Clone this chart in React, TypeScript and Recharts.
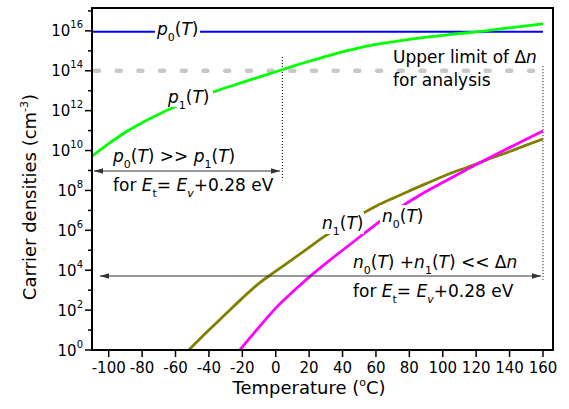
import React from "react";
import { LineChart, Line, XAxis, YAxis, ReferenceLine, ReferenceArea } from "recharts";

// temperatures in °C, densities in cm^-3
const p0Temps = [-110, 160];
const p0Vals = [9e15, 9e15];

const p1Temps = [-110, -100, -90, -80, -70, -60, -50, -40, -30, -20, -10, 0, 10, 20, 30, 40, 50, 60, 70, 80, 90, 100, 110, 120, 130, 140, 150, 160];
const p1Vals = [5.2e9, 2.2e10, 8.3e10, 2.5e11, 6.6e11, 1.6e12, 3.3e12, 7.1e12, 1.4e13, 2.6e13, 4.8e13, 8.9e13, 1.66e14, 3.0e14, 5.2e14, 8.9e14, 1.4e15, 2.1e15, 2.8e15, 3.7e15, 4.8e15, 6.0e15, 7.4e15, 8.9e15, 1.12e16, 1.41e16, 1.78e16, 2.24e16];

const n1Temps = [-52, -40, -30, -20, -10, 0, 10, 20, 30, 40, 50, 60, 70, 80, 90, 100, 110, 120, 130, 140, 150, 160];
const n1Vals = [1, 10, 63, 400, 2.2e3, 8.9e3, 3.5e4, 1.4e5, 5.6e5, 1.8e6, 5.6e6, 1.6e7, 4.0e7, 9.5e7, 2.2e8, 5.0e8, 1.05e9, 2.1e9, 4.5e9, 8.9e9, 1.86e10, 3.8e10];

const n0Temps = [-21.5, -10, 0, 10, 20, 30, 40, 50, 60, 70, 80, 90, 100, 110, 120, 130, 140, 150, 160];
const n0Vals = [1, 14, 126, 800, 4.5e3, 2.2e4, 1.0e5, 4.5e5, 2.0e6, 7.9e6, 2.8e7, 8.9e7, 2.5e8, 7.1e8, 2.0e9, 5.4e9, 1.4e10, 3.7e10, 9.5e10];

const xTicks = [-100, -80, -60, -40, -20, 0, 20, 40, 60, 80, 100, 120, 140, 160];
const yTicks = [1, 1e1, 1e2, 1e3, 1e4, 1e5, 1e6, 1e7, 1e8, 1e9, 1e10, 1e11, 1e12, 1e13, 1e14, 1e15, 1e16, 1e17];

const toRows = (ts: number[], vs: number[]) => ts.map((t, i) => ({ t, v: vs[i] }));

const FONT = "'DejaVu Sans', Verdana, sans-serif";

const YTick = (props: any) => {
  const { x, y, payload } = props;
  const e = Math.round(Math.log10(payload.value));
  const ax = x + 10;
  const major = e % 2 === 0;
  return (
    <g>
      <line x1={ax - (major ? 7 : 4)} x2={ax} y1={y} y2={y} stroke="#000" strokeWidth={1.5} />
      {major && (
        <text x={ax - 9} y={y + 5.5} textAnchor="end" fontSize={15} fill="#000" fontFamily={FONT}>
          10<tspan dy={-8} fontSize={10}>{e}</tspan>
        </text>
      )}
    </g>
  );
};

type Part = { t: string; i?: boolean; s?: "sub" | "sup" };

// text with italic / sub / superscript runs
const Rich = ({ x, y, parts, size = 17, anchor, transform }: { x?: number; y?: number; parts: Part[]; size?: number; anchor?: string; transform?: string }) => {
  let cur = 0;
  return (
    <text x={x} y={y} fontSize={size} textAnchor={anchor} transform={transform} style={{ whiteSpace: "pre" }}>
      {parts.map((p, k) => {
        const target = p.s === "sub" ? 6 : p.s === "sup" ? -8 : 0;
        const dy = target - cur;
        cur = target;
        return (
          <tspan key={k} dy={dy || undefined} fontSize={p.s ? 11 : undefined} fontStyle={p.i ? "italic" : undefined}>
            {p.t}
          </tspan>
        );
      })}
    </text>
  );
};

const fn = (name: string, idx: string): Part[] => [{ t: name, i: true }, { t: idx, s: "sub" }, { t: "(" }, { t: "T", i: true }, { t: ")" }];
const etLine: Part[] = [{ t: "for " }, { t: "E", i: true }, { t: "t", s: "sub" }, { t: "= " }, { t: "E", i: true }, { t: "v", i: true, s: "sub" }, { t: "+0.28 eV" }];

const Overlay = () => (
  <svg width={569} height={409} style={{ position: "absolute", left: 0, top: 0, pointerEvents: "none" }} fontFamily={FONT} fill="#000">
    <defs>
      <marker id="ah" viewBox="0 0 10 6" refX="10" refY="3" markerWidth="9" markerHeight="6" markerUnits="userSpaceOnUse" orient="auto-start-reverse">
        <path d="M0,0 L10,3 L0,6 Z" fill="#333" />
      </marker>
    </defs>

    {/* line labels */}
    <rect x={155} y={21} width={45} height={23} fill="#fff" />
    <Rich x={157} y={35} parts={fn("p", "0")} />
    <rect x={167} y={86} width={46} height={21} fill="#fff" />
    <Rich x={168} y={103} parts={fn("p", "1")} />
    <rect x={320} y={212} width={44} height={22} fill="#fff" />
    <Rich x={322} y={229} parts={fn("n", "1")} />
    <rect x={380} y={205} width={44} height={22} fill="#fff" />
    <Rich x={382} y={222} parts={fn("n", "0")} />

    {/* upper limit note */}
    <Rich x={393} y={63} parts={[{ t: "Upper limit of Δ" }, { t: "n", i: true }]} />
    <Rich x={393} y={86} parts={[{ t: "for analysis" }]} />

    {/* p0 >> p1 */}
    <Rich x={113} y={162} parts={[...fn("p", "0"), { t: " >> " }, ...fn("p", "1")]} />
    <line x1={94} x2={280} y1={171} y2={171} stroke="#333" strokeWidth={1.2} markerStart="url(#ah)" markerEnd="url(#ah)" />
    <Rich x={113} y={191} parts={etLine} />

    {/* n0 + n1 << dn */}
    <Rich x={353} y={268} parts={[...fn("n", "0"), { t: " +" }, ...fn("n", "1"), { t: " << Δ" }, { t: "n", i: true }]} />
    <line x1={100} x2={541} y1={276} y2={276} stroke="#333" strokeWidth={1.2} markerStart="url(#ah)" markerEnd="url(#ah)" />
    <Rich x={353} y={297} parts={etLine} />

    {/* axis titles */}
    <Rich x={309} y={394} size={18} anchor="middle" parts={[{ t: "Temperature (" }, { t: "o", s: "sup" }, { t: "C)" }]} />
    <Rich transform="translate(36,197) rotate(-90)" size={18} anchor="middle" parts={[{ t: "Carrier densities (cm" }, { t: "-3", s: "sup" }, { t: ")" }]} />
  </svg>
);

export default function App() {
  return (
    <div style={{ position: "absolute", left: 0, top: 0, width: 569, height: 409, background: "#fff" }}>
      <LineChart width={569} height={409} margin={{ top: 8, right: 16, left: 0, bottom: 0 }}>
        <XAxis
          type="number"
          dataKey="t"
          domain={[-110, 166]}
          ticks={xTicks}
          allowDataOverflow
          tickSize={7}
          tickMargin={5}
          height={59}
          axisLine={{ stroke: "#000", strokeWidth: 2 }}
          tickLine={{ stroke: "#000", strokeWidth: 1.5 }}
          tick={{ fontSize: 15, fill: "#000", fontFamily: FONT }}
        />
        <YAxis
          type="number"
          scale="log"
          domain={[1, 1.4e17]}
          ticks={yTicks}
          allowDataOverflow
          width={92}
          tickSize={7}
          tickMargin={3}
          tickLine={false}
          axisLine={{ stroke: "#000", strokeWidth: 2 }}
          tick={<YTick />}
          interval={0}
        />
        <ReferenceArea x1={-110} x2={166} y1={1} y2={1.4e17} fill="none" stroke="#000" strokeWidth={2} />
        <ReferenceLine
          segment={[{ x: -108.2, y: 1e14 }, { x: 154, y: 1e14 }]}
          stroke="#c8c8c8"
          strokeWidth={4.5}
          strokeDasharray="4 17.7"
          strokeLinecap="round"
        />
        <ReferenceLine segment={[{ x: 4, y: 4.9e14 }, { x: 4, y: 3.3e8 }]} stroke="#000" strokeDasharray="1 2" />
        <ReferenceLine segment={[{ x: 160, y: 1.7e14 }, { x: 160, y: 3.2e3 }]} stroke="#000" strokeDasharray="1 2" />
        <Line data={toRows(p0Temps, p0Vals)} dataKey="v" stroke="#0000ff" strokeWidth={2.2} dot={false} isAnimationActive={false} />
        <Line data={toRows(p1Temps, p1Vals)} dataKey="v" type="monotone" stroke="#00ff00" strokeWidth={2.8} dot={false} isAnimationActive={false} />
        <Line data={toRows(n1Temps, n1Vals)} dataKey="v" type="monotone" stroke="#808000" strokeWidth={2.8} dot={false} isAnimationActive={false} />
        <Line data={toRows(n0Temps, n0Vals)} dataKey="v" type="monotone" stroke="#ff00ff" strokeWidth={2.8} dot={false} isAnimationActive={false} />
      </LineChart>
      <Overlay />
    </div>
  );
}
